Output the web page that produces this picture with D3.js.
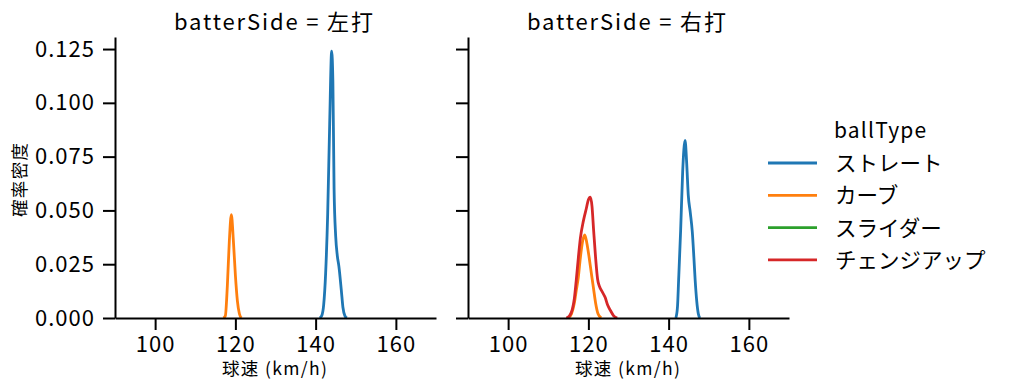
<!DOCTYPE html>
<html>
<head>
<meta charset="utf-8">
<script src="https://cdn.jsdelivr.net/npm/d3@7"></script>
<style>
body { margin: 0; background: #fff; }
text { font-family: "Noto Sans CJK JP", sans-serif; fill: #000; }
</style>
</head>
<body>
<svg id="chart" width="1014" height="391"></svg>
<script>
var panels = ["左打", "右打"];
var ballTypes = ["ストレート", "カーブ", "スライダー", "チェンジアップ"];
var colors = ["#1f77b4", "#ff7f0e", "#2ca02c", "#d62728"];
var xTicks = [100, 120, 140, 160];
var yTicks = [0, 0.025, 0.05, 0.075, 0.1, 0.125];

// 左打
var leftStraightSpeed   = [141.0, 141.5, 142.0, 142.5, 143.0, 143.5, 144.0, 144.3, 144.6, 145.0, 145.4, 145.8, 146.4, 146.8, 147.3, 147.8];
var leftStraightDensity = [0, 0.001, 0.006, 0.021, 0.048, 0.09, 0.124, 0.11, 0.06, 0.038, 0.029, 0.024, 0.013, 0.005, 0.001, 0];
var leftCurveSpeed   = [117.0, 117.5, 118.0, 118.5, 119.0, 119.5, 120.0, 120.5, 121.0, 121.5];
var leftCurveDensity = [0, 0.001, 0.015, 0.036, 0.048, 0.036, 0.02, 0.008, 0.002, 0];

// 右打
var rightStraightSpeed   = [141.8, 142.2, 142.5, 143.0, 143.5, 144.1, 144.5, 144.9, 145.4, 145.9, 146.3, 146.6, 147.0, 147.4, 147.8];
var rightStraightDensity = [0, 0.005, 0.018, 0.041, 0.068, 0.0825, 0.072, 0.057, 0.049, 0.040, 0.028, 0.018, 0.008, 0.002, 0];
var rightCurveSpeed   = [115.0, 115.8, 116.5, 117.0, 117.5, 118.0, 118.6, 119.1, 119.6, 120.2, 120.8, 121.3, 121.8, 122.4, 123.2];
var rightCurveDensity = [0, 0.002, 0.007, 0.013, 0.019, 0.028, 0.036, 0.0386, 0.035, 0.028, 0.02, 0.0135, 0.007, 0.002, 0];
var rightChangeSpeed   = [114.5, 115.3, 116.0, 116.5, 117.0, 117.5, 118.0, 118.8, 119.5, 120.0, 120.5, 120.9, 121.3, 121.8, 122.3, 122.8, 123.5, 124.2, 124.8, 125.5, 126.3, 127.2];
var rightChangeDensity = [0, 0.001, 0.004, 0.009, 0.018, 0.028, 0.037, 0.0455, 0.051, 0.055, 0.0562, 0.052, 0.041, 0.028, 0.018, 0.0145, 0.012, 0.0095, 0.006, 0.0035, 0.001, 0];

var curves = [
    { panel: 0, type: 0, speed: leftStraightSpeed, density: leftStraightDensity },
    { panel: 0, type: 1, speed: leftCurveSpeed, density: leftCurveDensity },
    { panel: 1, type: 0, speed: rightStraightSpeed, density: rightStraightDensity },
    { panel: 1, type: 1, speed: rightCurveSpeed, density: rightCurveDensity },
    { panel: 1, type: 3, speed: rightChangeSpeed, density: rightChangeDensity }
];

var svg = d3.select("#chart");
var top0 = 37, bottom0 = 318;
var panelLeft = [115, 468], panelW = 321;

var y = d3.scaleLinear().domain([0, 0.1306]).range([bottom0, top0]);

panels.forEach(function (p, i) {
    var x = d3.scaleLinear().domain([90, 170]).range([panelLeft[i], panelLeft[i] + panelW]);
    var g = svg.append("g");
    var cx = panelLeft[i] + panelW / 2;

    // 曲線
    var line = d3.line()
        .x(function (d) { return x(d[0]); })
        .y(function (d) { return y(d[1]); })
        .curve(d3.curveMonotoneX);
    curves.filter(function (c) { return c.panel === i; }).forEach(function (c) {
        g.append("path")
            .datum(c.speed.map(function (s, k) { return [s, c.density[k]]; }))
            .attr("d", line)
            .attr("fill", "none")
            .attr("stroke", colors[c.type])
            .attr("stroke-width", 2.8)
            .attr("stroke-linejoin", "round");
    });

    var xAxis = g.append("g")
        .attr("transform", "translate(0," + bottom0 + ")")
        .call(d3.axisBottom(x).tickValues(xTicks).tickSize(12).tickSizeOuter(0).tickPadding(6));
    var yAxis = g.append("g")
        .attr("transform", "translate(" + panelLeft[i] + ",0)")
        .call(d3.axisLeft(y).tickValues(yTicks).tickSize(12).tickSizeOuter(0).tickPadding(8)
            .tickFormat(i === 0 ? d3.format(".3f") : ""));
    [xAxis, yAxis].forEach(function (a) {
        a.selectAll("path, line").attr("stroke", "#000").attr("stroke-width", 2);
        a.selectAll("text").style("font-size", "22px").style("letter-spacing", "1px").attr("fill", "#000");
    });

    g.append("text")
        .attr("x", cx - 2)
        .attr("y", 30)
        .attr("text-anchor", "middle")
        .attr("textLength", 199)
        .attr("lengthAdjust", "spacing")
        .style("font-size", "22px")
        .text("batterSide = " + p);

    g.append("text")
        .attr("x", cx - 1)
        .attr("y", 375)
        .attr("text-anchor", "middle")
        .attr("textLength", 105)
        .attr("lengthAdjust", "spacing")
        .style("font-size", "17.5px")
        .text("球速 (km/h)");
});

svg.append("text")
    .attr("transform", "translate(18,180) rotate(-90)")
    .attr("text-anchor", "middle")
    .attr("dominant-baseline", "central")
    .attr("textLength", 74)
    .attr("lengthAdjust", "spacing")
    .style("font-size", "17.5px")
    .text("確率密度");

// 凡例
var legend = svg.append("g");
legend.append("text")
    .attr("x", 834).attr("y", 138)
    .style("font-size", "21px")
    .style("letter-spacing", "1.2px")
    .text("ballType");
ballTypes.forEach(function (t, i) {
    var ly = 163 + i * 32.3;
    legend.append("line")
        .attr("x1", 768).attr("x2", 817)
        .attr("y1", ly).attr("y2", ly)
        .attr("stroke", colors[i]).attr("stroke-width", 2.8);
    legend.append("text")
        .attr("x", 835).attr("y", ly + 8)
        .style("font-size", "21.5px")
        .text(t);
});
</script>
</body>
</html>
